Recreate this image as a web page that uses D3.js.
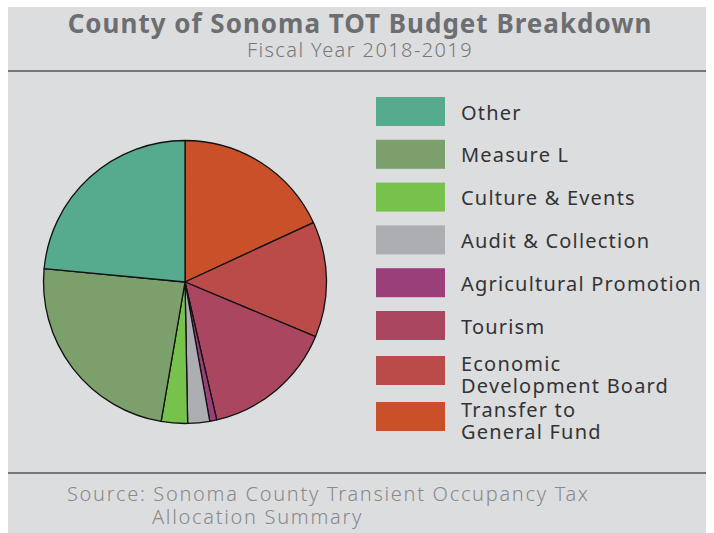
<!DOCTYPE html>
<html>
<head>
<meta charset="utf-8">
<script src="https://cdn.jsdelivr.net/npm/d3@7"></script>
<style>
  body { margin: 0; background: #ffffff; }
  svg { display: block; }
  text { font-family: "Noto Sans", "Open Sans", sans-serif; }
</style>
</head>
<body>
<script>
//chart data, in legend order (top to bottom)
var categories = ["Other", "Measure L", "Culture & Events", "Audit & Collection",
    "Agricultural Promotion", "Tourism", "Economic Development Board", "Transfer to General Fund"];
//share of budget in percent
var shares = [23.5, 23.8, 3.0, 2.5, 0.8, 15.1, 13.2, 18.1];
var colors = ["#56aa8e", "#7ba06c", "#77c14d", "#adaeb1", "#9a3f79", "#aa4660", "#bb4b49", "#c95028"];
//legend labels wrapped the way the original wraps them
var legendLines = [["Other"], ["Measure L"], ["Culture & Events"], ["Audit & Collection"],
    ["Agricultural Promotion"], ["Tourism"], ["Economic", "Development Board"], ["Transfer to", "General Fund"]];

var width = 714,
    height = 533;

var svg = d3.select("body")
    .append("svg")
    .attr("width", width)
    .attr("height", height);

//grey panel behind everything
svg.append("rect")
    .attr("x", 8)
    .attr("y", 7)
    .attr("width", 698)
    .attr("height", height - 7)
    .attr("fill", "#dcdddf");

//title block (letter-spacing stands in for the wide Gotham face of the original)
svg.append("text")
    .attr("x", 360)
    .attr("y", 33)
    .attr("text-anchor", "middle")
    .attr("font-size", 26)
    .attr("font-weight", "bold")
    .attr("letter-spacing", 1)
    .attr("fill", "#6d6e71")
    .text("County of Sonoma TOT Budget Breakdown");

svg.append("text")
    .attr("x", 360)
    .attr("y", 57)
    .attr("text-anchor", "middle")
    .attr("font-size", 20)
    .attr("font-weight", 300)
    .attr("letter-spacing", 1.4)
    .attr("fill", "#77787b")
    .text("Fiscal Year 2018-2019");

//separator lines
[71, 473].forEach(function(y) {
    svg.append("line")
        .attr("x1", 8).attr("x2", 706)
        .attr("y1", y).attr("y2", y)
        .attr("stroke", "#77787b")
        .attr("stroke-width", 2);
});

//pie, drawn clockwise from 12 o'clock starting with the last legend item
var pieData = d3.range(categories.length).reverse().map(function(i) {
    return { name: categories[i], value: shares[i], color: colors[i] };
});

var pie = d3.pie()
    .sort(null)
    .value(function(d) { return d.value; });

var arc = d3.arc()
    .innerRadius(0)
    .outerRadius(141.5);

var pieGroup = svg.append("g")
    .attr("transform", "translate(185,282)");

pieGroup.selectAll("path")
    .data(pie(pieData))
    .enter()
    .append("path")
    .attr("d", arc)
    .attr("fill", function(d) { return d.data.color; })
    .attr("stroke", "#111")
    .attr("stroke-width", 1.3)
    .attr("stroke-linejoin", "round");

//legend rows: evenly spaced, with a bit more room for the two wrapped labels
var swatchY = d3.scaleLinear()
    .domain([0, 5, 6, 7])
    .range([97, 311, 356, 402]);

var legend = svg.selectAll(".legend")
    .data(categories)
    .enter()
    .append("g")
    .attr("class", "legend")
    .attr("transform", function(d, i) { return "translate(376," + swatchY(i) + ")"; });

legend.append("rect")
    .attr("width", 69)
    .attr("height", 29)
    .attr("fill", function(d, i) { return colors[i]; });

legend.each(function(d, i) {
    var lines = legendLines[i];
    var t = d3.select(this).append("text")
        .attr("x", 85)
        .attr("font-size", 20)
        .attr("letter-spacing", 1.2)
        .attr("fill", "#333335");
    lines.forEach(function(line, j) {
        t.append("tspan")
            .attr("x", 85)
            .attr("y", lines.length === 1 ? 22.5 : 15 + j * 21.5)
            .text(line);
    });
});

//source note
svg.append("text")
    .attr("x", 67)
    .attr("y", 501)
    .attr("font-size", 20)
    .attr("font-weight", 300)
    .attr("letter-spacing", 1.7)
    .attr("fill", "#88898c")
    .text("Source: Sonoma County Transient Occupancy Tax");

svg.append("text")
    .attr("x", 152)
    .attr("y", 524)
    .attr("font-size", 20)
    .attr("font-weight", 300)
    .attr("letter-spacing", 1.7)
    .attr("fill", "#88898c")
    .text("Allocation Summary");
</script>
</body>
</html>
